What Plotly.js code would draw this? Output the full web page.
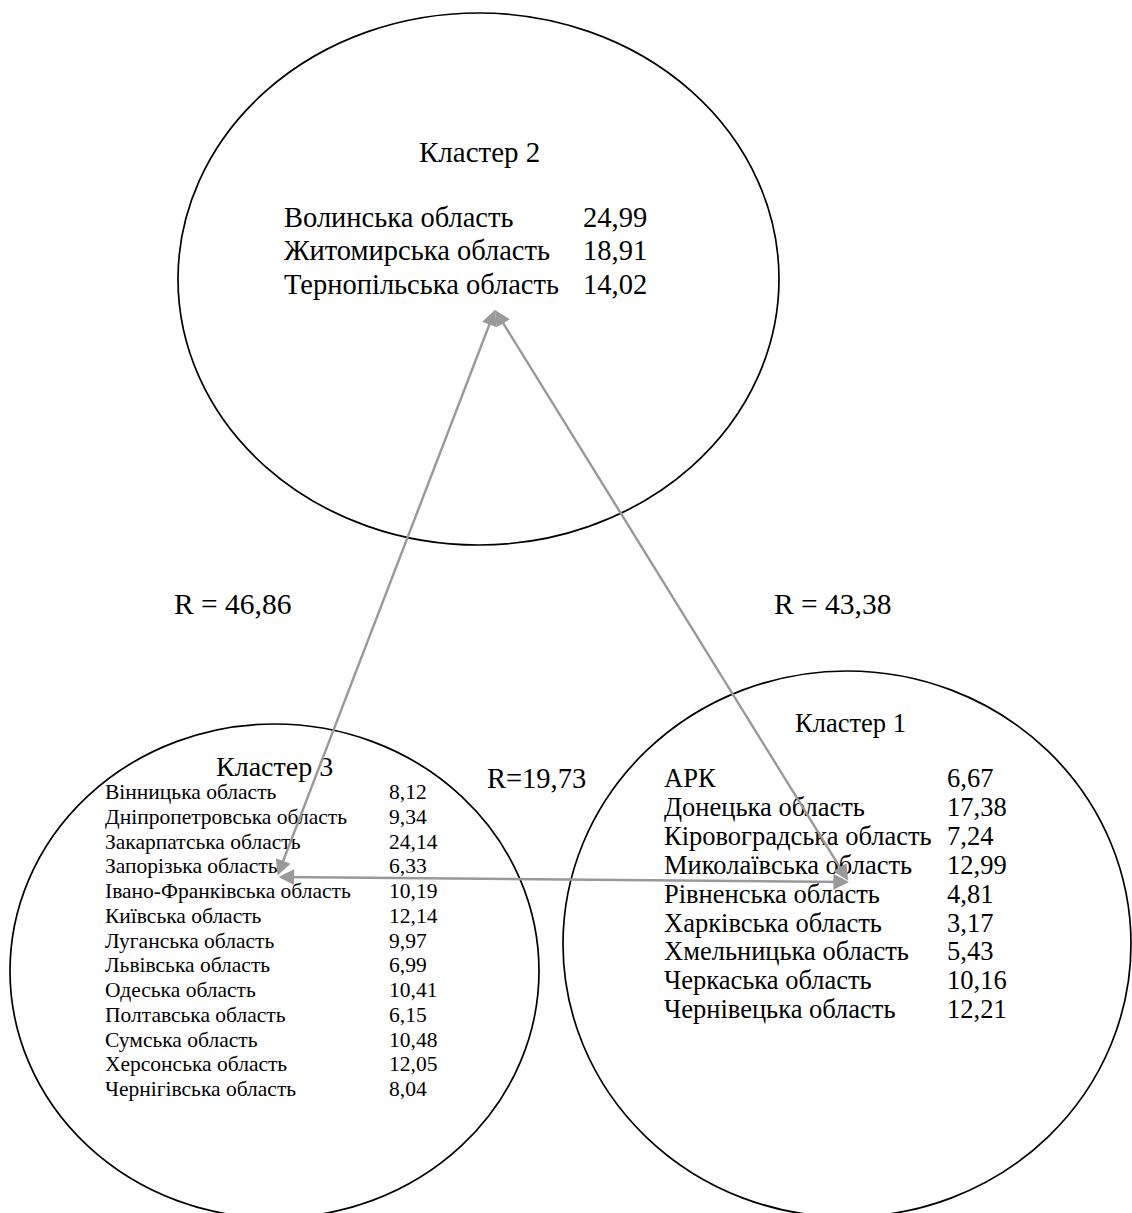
<!DOCTYPE html>
<html>
<head>
<meta charset="utf-8">
<script src="https://cdn.plot.ly/plotly-3.0.1.min.js"></script>
<style>html,body{margin:0;padding:0;background:#fff;}#chart{width:1132px;height:1213px;}</style>
</head>
<body>
<div id="chart"></div>
<script>
// ---- data ----
const cluster1Title = "Кластер 1";
const cluster1Names = ["АРК", "Донецька область", "Кіровоградська область", "Миколаївська область", "Рівненська область", "Харківська область", "Хмельницька область", "Черкаська область", "Чернівецька область"];
const cluster1Values = [6.67, 17.38, 7.24, 12.99, 4.81, 3.17, 5.43, 10.16, 12.21];

const cluster2Title = "Кластер 2";
const cluster2Names = ["Волинська область", "Житомирська область", "Тернопільська область"];
const cluster2Values = [24.99, 18.91, 14.02];

const cluster3Title = "Кластер 3";
const cluster3Names = ["Вінницька область", "Дніпропетровська область", "Закарпатська область", "Запорізька область", "Івано-Франківська область", "Київська область", "Луганська область", "Львівська область", "Одеська область", "Полтавська область", "Сумська область", "Херсонська область", "Чернігівська область"];
const cluster3Values = [8.12, 9.34, 24.14, 6.33, 10.19, 12.14, 9.97, 6.99, 10.41, 6.15, 10.48, 12.05, 8.04];

const distanceLabels = ["R = 46,86", "R = 43,38", "R=19,73"];

// ---- layout helpers ----
const FONT = "Liberation Serif, Times New Roman, serif";
const fmt = v => v.toFixed(2).replace('.', ',');

function txt(x, y, text, size, anchor) {
  return {x: x, y: y, xref: 'x', yref: 'y', text: text, showarrow: false,
          xanchor: anchor || 'left', yanchor: 'middle',
          font: {family: FONT, size: size, color: '#000'}};
}

const annotations = [];
const shapes = [];

// ellipses
const ellipses = [
  {x0: 178, x1: 779, y0: 13, y1: 545},   // cluster 2
  {x0: 10, x1: 539, y0: 724, y1: 1218},  // cluster 3
  {x0: 563, x1: 1131, y0: 671, y1: 1217} // cluster 1
];
ellipses.forEach(e => shapes.push({type: 'circle', xref: 'x', yref: 'y',
  x0: e.x0, x1: e.x1, y0: e.y0, y1: e.y1, line: {color: '#000', width: 1.7}}));

// cluster 2
annotations.push(txt(479, 152, cluster2Title, 29, 'center'));
cluster2Names.forEach((n, i) => {
  const y = 217 + i * 33.5;
  annotations.push(txt(282, y, n, 28.5));
  annotations.push(txt(581, y, fmt(cluster2Values[i]), 28.5));
});

// cluster 1
annotations.push(txt(850, 723, cluster1Title, 26.5, 'center'));
cluster1Names.forEach((n, i) => {
  const y = 778 + i * 28.9;
  annotations.push(txt(662, y, n, 26.5));
  annotations.push(txt(945, y, fmt(cluster1Values[i]), 26.5));
});

// cluster 3
annotations.push(txt(274, 766, cluster3Title, 28, 'center'));
cluster3Names.forEach((n, i) => {
  const y = 792 + i * 24.75;
  annotations.push(txt(103, y, n, 21.5));
  annotations.push(txt(387, y, fmt(cluster3Values[i]), 21.5));
});

// distance labels
annotations.push(txt(232, 604, distanceLabels[0], 29.5, 'center'));
annotations.push(txt(832, 604, distanceLabels[1], 29.5, 'center'));
annotations.push(txt(536, 778, distanceLabels[2], 28.5, 'center'));

// arrows between cluster centres (double headed)
const P2 = [495, 310], P3 = [277, 877], P1 = [849, 882];
function arrow(a, b) {
  annotations.push({x: a[0], y: a[1], ax: b[0], ay: b[1], xref: 'x', yref: 'y',
    axref: 'x', ayref: 'y', text: '', showarrow: true, arrowhead: 2, startarrowhead: 2,
    arrowside: 'end+start', arrowsize: 1.3, startarrowsize: 1.3, arrowwidth: 2.4,
    arrowcolor: '#999999', standoff: 0, startstandoff: 0});
}
arrow(P2, P3);
arrow(P2, P1);
arrow(P1, P3);

const layout = {
  width: 1132, height: 1213,
  margin: {l: 0, r: 0, t: 0, b: 0},
  paper_bgcolor: '#fff', plot_bgcolor: '#fff',
  showlegend: false,
  xaxis: {range: [0, 1132], visible: false, fixedrange: true},
  yaxis: {range: [1213, 0], visible: false, fixedrange: true},
  shapes: shapes,
  annotations: annotations
};

Plotly.newPlot('chart', [], layout, {staticPlot: true, displayModeBar: false});
</script>
</body>
</html>
